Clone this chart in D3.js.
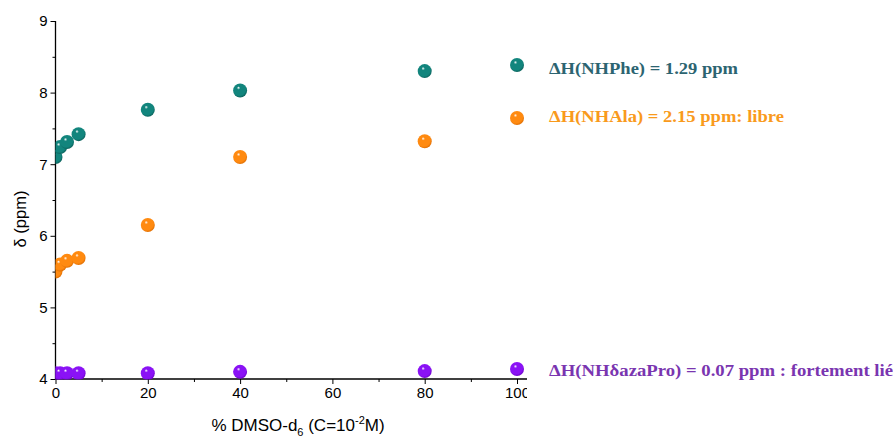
<!DOCTYPE html>
<html><head><meta charset="utf-8">
<script src="https://cdn.jsdelivr.net/npm/d3@7"></script>
<style>body{margin:0;background:#fff}svg{display:block}</style>
</head><body>
<svg id="c" width="893" height="437"></svg>
<script>
const xValues = [0, 1, 2.5, 5, 20, 40, 80];
const xValuesAza = [0, 1, 2.5, 5, 20, 40, 80, 100];
const nhPhe = [7.10, 7.24, 7.31, 7.42, 7.76, 8.03, 8.30];
const nhAla = [5.50, 5.60, 5.65, 5.69, 6.15, 7.10, 7.32];
const nhAza = [4.08, 4.08, 4.08, 4.08, 4.08, 4.10, 4.11, 4.14];
const xTicks = [0, 20, 40, 60, 80, 100];
const yTicks = [4, 5, 6, 7, 8, 9];
const legendLabels = ["ΔH(NHPhe) = 1.29 ppm", "ΔH(NHAla) = 2.15 ppm: libre", "ΔH(NHδazaPro) = 0.07 ppm : fortement lié"];

const svg = d3.select("#c");
const x = d3.scaleLinear().domain([0, 100]).range([55.5, 517]);
const y = d3.scaleLinear().domain([4, 9]).range([379, 21]);
const xEnd = 527;

const defs = svg.append("defs");
function grad(id, base, dark) {
  const g = defs.append("radialGradient").attr("id", id)
    .attr("cx", "45%").attr("cy", "42%").attr("r", "62%").attr("fx", "38%").attr("fy", "30%");
  g.append("stop").attr("offset", "0%").attr("stop-color", "#ffffff");
  g.append("stop").attr("offset", "20%").attr("stop-color", base);
  g.append("stop").attr("offset", "75%").attr("stop-color", base);
  g.append("stop").attr("offset", "100%").attr("stop-color", dark);
}
grad("gT", "#12857d", "#0a5a54");
grad("gO", "#ff8a10", "#d86800");
grad("gP", "#8a12f5", "#6600c0");
defs.append("clipPath").attr("id", "plot").append("rect")
  .attr("x", x(0)).attr("y", 0).attr("width", 700).attr("height", y(4) + 0.5);
defs.append("clipPath").attr("id", "xaxisClip").append("rect")
  .attr("x", 0).attr("y", -2).attr("width", xEnd).attr("height", 40);

const xAxis = d3.axisBottom(x).tickValues(xTicks).tickSize(5).tickPadding(3).tickFormat(d3.format("d"));
const xMinor = d3.axisBottom(x).tickValues([10, 30, 50, 70, 90]).tickSize(3).tickFormat("");
const yAxis = d3.axisLeft(y).tickValues(yTicks).tickSize(5).tickPadding(3).tickFormat(d3.format("d"));
const yMinor = d3.axisLeft(y).tickValues([4.5, 5.5, 6.5, 7.5, 8.5]).tickSize(3).tickFormat("");

function styleAxis(g) {
  g.select(".domain").remove();
  g.selectAll("line").attr("stroke", "#000").attr("stroke-width", 1);
  g.selectAll("text").attr("fill", "#000").style("font-family", "Liberation Sans, Arial, sans-serif").style("font-size", "15px");
}
svg.append("g").attr("transform", `translate(0,${y(4)})`).attr("clip-path", "url(#xaxisClip)").call(xAxis).call(styleAxis);
svg.append("g").attr("transform", `translate(0,${y(4)})`).call(xMinor).call(styleAxis);
svg.append("g").attr("transform", `translate(${x(0)},0)`).call(yAxis).call(styleAxis);
svg.append("g").attr("transform", `translate(${x(0)},0)`).call(yMinor).call(styleAxis);

svg.append("line").attr("x1", x(0)).attr("x2", xEnd).attr("y1", y(4)).attr("y2", y(4)).attr("stroke", "#000").attr("stroke-width", 1.3);
svg.append("line").attr("x1", x(0)).attr("x2", x(0)).attr("y1", y(9)).attr("y2", y(4)).attr("stroke", "#000").attr("stroke-width", 1.3);

// titles
const xt = svg.append("text").attr("x", 298).attr("y", 431).attr("text-anchor", "middle")
  .style("font-family", "Liberation Sans, Arial, sans-serif").style("font-size", "17px").attr("fill", "#000");
xt.append("tspan").text("% DMSO-d");
xt.append("tspan").attr("dy", 5).style("font-size", "11px").text("6");
xt.append("tspan").attr("dy", -5).text(" (C=10");
xt.append("tspan").attr("dy", -7).style("font-size", "11px").text("-2");
xt.append("tspan").attr("dy", 7).text("M)");
svg.append("text").attr("transform", `translate(26,219) rotate(-90)`).attr("text-anchor", "middle")
  .style("font-family", "Liberation Sans, Arial, sans-serif").style("font-size", "16.5px").attr("fill", "#000").text("δ (ppm)");

// data
const plot = svg.append("g").attr("clip-path", "url(#plot)");
const R = 7;
function series(xs, ys, fill) {
  plot.selectAll(null).data(xs.map((d, i) => [d, ys[i]])).join("circle")
    .attr("cx", d => x(d[0])).attr("cy", d => y(d[1])).attr("r", R).attr("fill", fill);
}
series(xValuesAza, nhAza, "url(#gP)");
series(xValues, nhAla, "url(#gO)");
series(xValues, nhPhe, "url(#gT)");

// legend
const legendMarkers = [["url(#gT)", 65], ["url(#gO)", 118]];
svg.selectAll(null).data(legendMarkers).join("circle")
  .attr("cx", 517).attr("cy", d => d[1]).attr("r", R).attr("fill", d => d[0]);
const legendText = [
  [legendLabels[0], 74, "#2c6471", 189],
  [legendLabels[1], 122, "#f99a1c", 235],
  [legendLabels[2], 376, "#7a35b0", 344]
];
svg.selectAll(null).data(legendText).join("text")
  .attr("x", 549).attr("y", d => d[1]).attr("fill", d => d[2])
  .attr("textLength", d => d[3]).attr("lengthAdjust", "spacingAndGlyphs")
  .style("font-family", "Liberation Serif, Times New Roman, serif").style("font-weight", "bold").style("font-size", "16px")
  .text(d => d[0]);
</script>
</body></html>
